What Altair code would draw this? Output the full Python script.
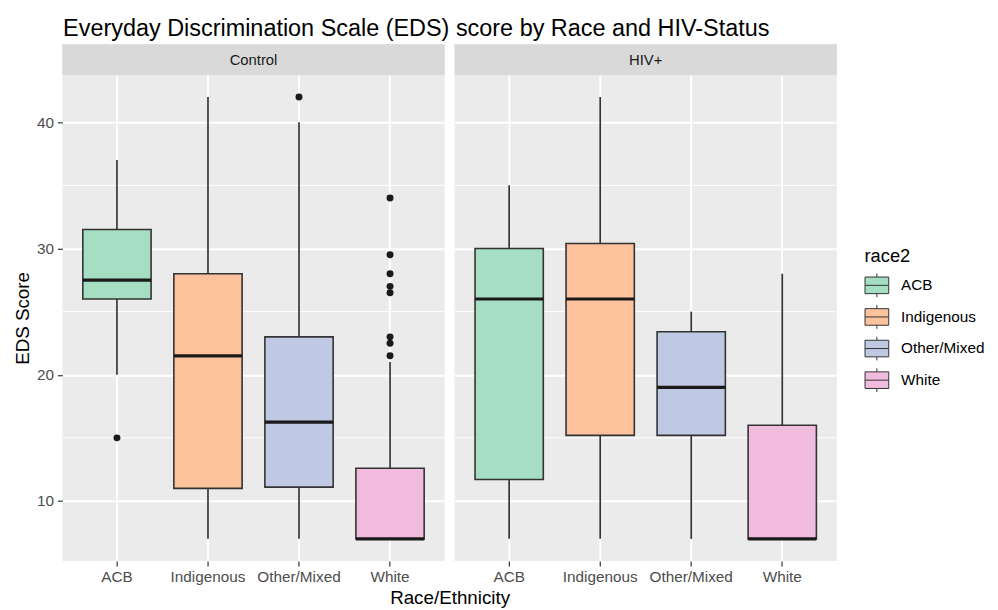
import altair as alt
import pandas as pd

# ---- data ----
race_levels = ["ACB", "Indigenous", "Other/Mixed", "White"]
race_colors = ["#A5DEC3", "#FBC29C", "#BFC9E3", "#F0BBDD"]
facet_levels = ["Control", "HIV+"]

box_group = ["Control"] * 4 + ["HIV+"] * 4
box_race = race_levels * 2
box_lower = [20, 7, 7, 7, 7, 7, 7, 7]
box_q1 = [26, 11, 11.1, 7, 11.7, 15.2, 15.2, 7]
box_median = [27.5, 21.5, 16.25, 7, 26, 26, 19, 7]
box_q3 = [31.5, 28, 23, 12.6, 30, 30.4, 23.4, 16]
box_upper = [37, 42, 40, 21, 35, 42, 25, 28]

out_group = ["Control"] * 10
out_race = ["ACB", "Other/Mixed", "White", "White", "White", "White", "White", "White", "White", "White"]
out_value = [15, 42, 34, 29.5, 28, 27, 26.5, 23, 22.5, 21.5]

y_ticks = [10, 20, 30, 40]
y_minor = [15, 25, 35]
y_domain = [5.25, 43.75]

stats = pd.DataFrame({"group": box_group, "race": box_race, "lower": box_lower,
                      "q1": box_q1, "median": box_median, "q3": box_q3, "upper": box_upper})
outl = pd.DataFrame({"group": out_group, "race": out_race, "value": out_value})
minor = pd.DataFrame({"v": y_minor})

FONT = "Liberation Sans"
W, H, SH = 387, 492, 31

legend_path = "M-1,-0.7H1V0.7H-1Z M-1,0H1 M0,-0.7V-1 M0,0.7V1"


def plot_panel(g, first):
    s = stats[stats.group == g]
    o = outl[outl.group == g]
    xscale = alt.Scale(domain=race_levels, paddingInner=0.25, paddingOuter=0.225)
    yscale = alt.Scale(domain=y_domain, nice=False, zero=False)
    xaxis = alt.Axis(title="Race/Ethnicity" if first else None, titleX=W + 5,
                     labelAngle=0, grid=True, bandPosition=0.5)
    if first:
        yaxis = alt.Axis(title="EDS Score", values=y_ticks, grid=True)
    else:
        yaxis = alt.Axis(title=None, values=y_ticks, grid=True, labels=False, ticks=False)
    X = alt.X("race:N", scale=xscale, axis=xaxis)
    color = alt.Color("race:N", scale=alt.Scale(domain=race_levels, range=race_colors),
                      legend=alt.Legend(title="race2"))

    minor_l = alt.Chart(minor).mark_rule(color="white", strokeWidth=1).encode(
        y=alt.Y("v:Q", scale=yscale, axis=yaxis))
    whisk = alt.Chart(s).mark_rule(color="#333333", strokeWidth=1.7).encode(
        x=X, y=alt.Y("lower:Q", scale=yscale, axis=yaxis), y2="upper:Q")
    box = alt.Chart(s).mark_bar(stroke="#333333", strokeWidth=1.6).encode(
        x=X, y=alt.Y("q1:Q", scale=yscale, axis=yaxis), y2="q3:Q", color=color)
    med = alt.Chart(s).mark_bar(stroke="#1A1A1A", strokeWidth=3.2, fill="#1A1A1A").encode(
        x=X, y=alt.Y("median:Q", scale=yscale, axis=yaxis), y2="median:Q")
    layers = [minor_l, whisk, box, med]
    if len(o):
        pts = alt.Chart(o).mark_circle(size=50, color="#1A1A1A", opacity=1).encode(
            x=X, y=alt.Y("value:Q", scale=yscale, axis=yaxis))
        layers.append(pts)
    return alt.layer(*layers).properties(width=W, height=H)


def strip_panel(g):
    sd = pd.DataFrame({"group": [g]})
    rect = alt.Chart(sd).mark_rect(color="#D9D9D9").encode(
        x=alt.value(0), x2=alt.value(W), y=alt.value(0), y2=alt.value(SH))
    txt = alt.Chart(sd).mark_text(font=FONT, fontSize=15, color="#1A1A1A").encode(
        text="group:N", x=alt.value(W / 2), y=alt.value(SH / 2))
    return alt.layer(rect, txt).properties(width=W, height=SH)


chart = alt.concat(
    strip_panel("Control"), strip_panel("HIV+"),
    plot_panel("Control", True), plot_panel("HIV+", False),
    columns=2, spacing=alt.RowColnumber(row=0, column=10), bounds="flush",
).properties(
    title=alt.TitleParams("Everyday Discrimination Scale (EDS) score by Race and HIV-Status",
                          anchor="start", fontSize=23.7, font=FONT, fontWeight="normal",
                          color="#000000", offset=4, dx=50),
    background="white",
).configure_view(stroke=None, fill="#EBEBEB").configure_axis(
    domain=False, gridColor="white", gridWidth=2, tickColor="#333333", tickSize=5,
    tickWidth=1.2, labelFont=FONT, labelFontSize=15.5, labelColor="#4D4D4D", labelPadding=4,
    titleFont=FONT, titleFontSize=19, titleFontWeight="normal", titleColor="#000000",
).configure_axisY(titlePadding=4).configure_axisX(titlePadding=4).configure_legend(
    orient="none", legendX=812, legendY=205, titleFont=FONT, titleFontSize=18.5,
    titleFontWeight="normal", titleColor="#000000", labelFont=FONT, labelFontSize=15.5,
    labelColor="#000000", symbolType=legend_path, symbolSize=576, symbolStrokeColor="#333333",
    symbolStrokeWidth=1, rowPadding=3, labelOffset=12, titlePadding=8,
)

chart.save("out.html", embed_options={"renderer": "svg", "actions": False})
